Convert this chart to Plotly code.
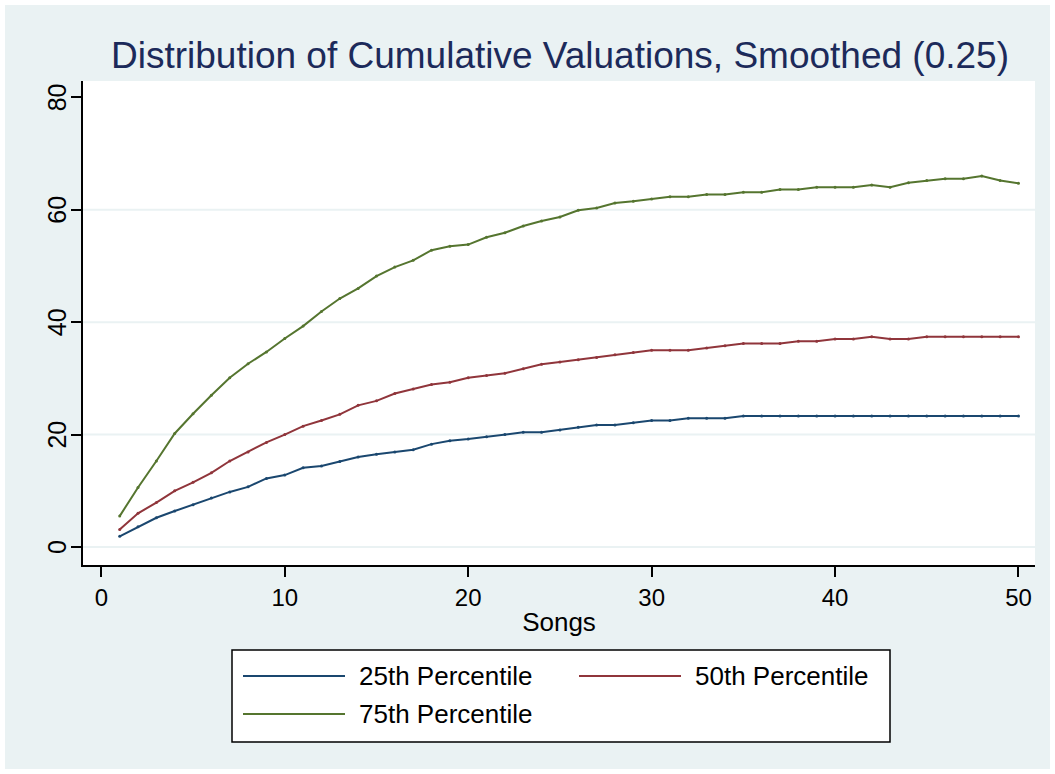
import plotly.graph_objects as go

# ---- data ----
songs = list(range(1, 51))
series_names = ["25th Percentile", "50th Percentile", "75th Percentile"]
p25 = [1.9, 3.6, 5.2, 6.4, 7.5, 8.7, 9.8, 10.7, 12.2, 12.8,
       14.1, 14.4, 15.2, 16.0, 16.5, 16.9, 17.3, 18.3, 18.9, 19.2,
       19.6, 20.0, 20.4, 20.4, 20.8, 21.3, 21.7, 21.7, 22.1, 22.5,
       22.5, 22.9, 22.9, 22.9, 23.3, 23.3, 23.3, 23.3, 23.3, 23.3,
       23.3, 23.3, 23.3, 23.3, 23.3, 23.3, 23.3, 23.3, 23.3, 23.3]
p50 = [3.1, 6.0, 7.9, 10.0, 11.5, 13.2, 15.3, 16.9, 18.6, 20.0,
       21.5, 22.5, 23.6, 25.2, 26.0, 27.3, 28.1, 28.9, 29.3, 30.1,
       30.5, 30.9, 31.7, 32.5, 32.9, 33.3, 33.7, 34.2, 34.6, 35.0,
       35.0, 35.0, 35.4, 35.8, 36.2, 36.2, 36.2, 36.6, 36.6, 37.0,
       37.0, 37.4, 37.0, 37.0, 37.4, 37.4, 37.4, 37.4, 37.4, 37.4]
p75 = [5.5, 10.6, 15.3, 20.2, 23.7, 27.0, 30.1, 32.6, 34.7, 37.1,
       39.3, 41.9, 44.2, 46.0, 48.2, 49.8, 51.0, 52.8, 53.5, 53.8,
       55.1, 55.9, 57.1, 58.0, 58.7, 59.9, 60.3, 61.2, 61.5, 61.9,
       62.3, 62.3, 62.7, 62.7, 63.1, 63.1, 63.6, 63.6, 64.0, 64.0,
       64.0, 64.4, 64.0, 64.8, 65.2, 65.5, 65.5, 66.0, 65.2, 64.7]
x_ticks = [0, 10, 20, 30, 40, 50]
y_ticks = [0, 20, 40, 60, 80]
grid_values = [0, 20, 40, 60]

# ---- style ----
colors = ["#1a476f", "#90353b", "#55752f"]
BG = "#eaf2f3"
FONT = "Liberation Sans, Arial, sans-serif"
W, H = 1055, 774
L, R, T, B = 83, 1035, 81, 565   # plot area in pixels
XR = [-1.0, 50.9]
YR = [-3.2, 82.9]


def px(xp):
    return (xp - L) / (R - L)


def py(yp):
    return (B - yp) / (B - T)


fig = go.Figure()
for name, vals, c in zip(series_names, [p25, p50, p75], colors):
    fig.add_trace(go.Scatter(x=songs, y=vals, name=name, mode="lines+markers",
                             line=dict(color=c, width=2),
                             marker=dict(color=c, size=3),
                             showlegend=False))

shapes = []
# gridlines
for g in grid_values:
    shapes.append(dict(type="line", xref="x", yref="y", x0=XR[0], x1=XR[1],
                       y0=g, y1=g, line=dict(color=BG, width=2), layer="below"))
# white outer frame
m = 5
for (x0, x1, y0, y1) in [(0, W, 0, m), (0, W, H - m, H), (0, m, 0, H), (W - m, W, 0, H)]:
    shapes.append(dict(type="rect", xref="paper", yref="paper",
                       x0=px(x0), x1=px(x1), y0=py(y1), y1=py(y0),
                       fillcolor="white", line=dict(width=0), layer="above"))
# legend box
lx0, lx1, ly0, ly1 = 232, 890, 650, 742
shapes.append(dict(type="rect", xref="paper", yref="paper",
                   x0=px(lx0), x1=px(lx1), y0=py(ly1), y1=py(ly0),
                   fillcolor="white", line=dict(color="black", width=1.5)))
legend_pos = [(243, 345, 676), (579, 681, 676), (243, 345, 714)]
annotations = []
for (a, b, yy), name, c in zip(legend_pos, series_names, colors):
    shapes.append(dict(type="line", xref="paper", yref="paper",
                       x0=px(a), x1=px(b), y0=py(yy), y1=py(yy),
                       line=dict(color=c, width=2)))
    annotations.append(dict(xref="paper", yref="paper", x=px(b + 12), y=py(yy),
                            text=name, showarrow=False, xanchor="left", yanchor="middle",
                            font=dict(family=FONT, size=26, color="black")))

# y tick labels (rotated), placed as text next to the axis
for v in y_ticks:
    annotations.append(dict(xref="paper", yref="y", x=px(57), y=v, text=str(v),
                            showarrow=False, textangle=-90, xanchor="center",
                            yanchor="middle",
                            font=dict(family=FONT, size=25, color="black")))

fig.update_layout(
    width=W, height=H,
    margin=dict(l=L, r=W - R, t=T, b=H - B, pad=0),
    paper_bgcolor=BG, plot_bgcolor="white",
    title=dict(text="Distribution of Cumulative Valuations, Smoothed (0.25)",
               xref="paper", x=px(560), xanchor="center",
               yref="container", y=1 - 55 / H, yanchor="middle",
               font=dict(family=FONT, size=37, color="#1c2a5a")),
    xaxis=dict(range=XR, tickvals=x_ticks, showgrid=False, zeroline=False,
               showline=True, linecolor="black", linewidth=1.5,
               ticks="outside", ticklen=10, tickwidth=1.5, tickcolor="black",
               tickfont=dict(family=FONT, size=24, color="black"),
               title=dict(text="Songs", font=dict(family=FONT, size=26, color="black"),
                          standoff=3)),
    yaxis=dict(range=YR, tickvals=y_ticks, showgrid=False, zeroline=False,
               showline=True, linecolor="black", linewidth=1.5,
               ticks="outside", ticklen=10, tickwidth=1.5, tickcolor="black",
               showticklabels=False),
    shapes=shapes, annotations=annotations,
    showlegend=False,
)

fig.write_html("out.html")
